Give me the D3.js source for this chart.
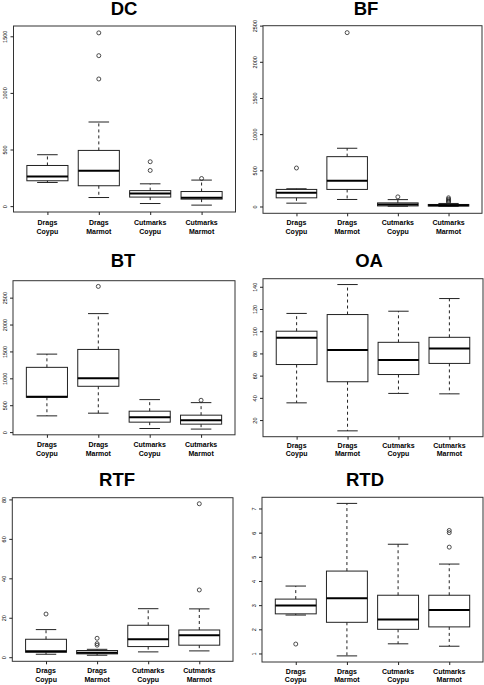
<!DOCTYPE html>
<html>
<head>
<meta charset="utf-8">
<script src="https://cdn.jsdelivr.net/npm/d3@7"></script>
<style>
  html, body { margin: 0; padding: 0; background: #fff; }
  svg { display: block; }
  text { font-family: "Liberation Sans", Arial, Helvetica, sans-serif; }
</style>
</head>
<body>
<svg id="chart" width="484" height="685"></svg>
<script>
// ---- Data ----
const catLine1 = ["Drags", "Drags", "Cutmarks", "Cutmarks"];
const catLine2 = ["Coypu", "Marmot", "Coypu", "Marmot"];

// Each box: [lower whisker, Q1, median, Q3, upper whisker]
const dcStats = [[209, 224, 262, 359, 454], [76, 180, 312, 492, 743], [23, 80, 111, 137, 197], [9, 62, 73, 129, 230]];
const dcOutliers = [[], [1123, 1329, 1530], [315, 392], [244]];
const dcTicks = [0, 500, 1000, 1500];

const bfStats = [[46, 120, 189, 236, 245], [97, 236, 356, 689, 805], [4, 8, 28, 50, 95], [2, 6, 18, 28, 42]];
const bfOutliers = [[532], [2403], [133], [58, 70, 85, 100, 120]];
const bfTicks = [0, 500, 1000, 1500, 2000, 2500];

const btStats = [[302, 648, 659, 1204, 1450], [352, 852, 1000, 1537, 2203], [67, 185, 278, 389, 604], [56, 148, 222, 315, 548]];
const btOutliers = [[], [2709], [], [592]];
const btTicks = [0, 500, 1000, 1500, 2000, 2500];

const oaStats = [[35.5, 70, 94, 100, 116], [10.3, 54.5, 83, 115, 142], [44, 61, 74, 90, 118], [43.6, 71, 84.5, 94.5, 129.4]];
const oaOutliers = [[], [], [], []];
const oaTicks = [20, 40, 60, 80, 100, 120, 140];

const rtfStats = [[1.5, 2.5, 3.0, 9.1, 14], [1.0, 1.7, 2.3, 3.4, 4.0], [2.7, 5.4, 9.1, 16.2, 24.6], [3.2, 6.1, 11.1, 13.8, 24.5]];
const rtfOutliers = [[21.9], [6.1, 6.9, 9.6], [], [34.1, 77.8]];
const rtfTicks = [0, 20, 40, 60, 80];

const rtdStats = [[2.59, 2.64, 2.99, 3.25, 3.79], [0.9, 2.29, 3.29, 4.41, 7.21], [1.4, 2.0, 2.41, 3.41, 5.52], [1.3, 2.1, 2.8, 3.41, 4.7]];
const rtdOutliers = [[1.39], [], [], [5.4, 6.0, 6.09]];
const rtdTicks = [1, 2, 3, 4, 5, 6, 7];

// ---- Layout ----
const panels = [
  { title: "DC",  stats: dcStats,  outliers: dcOutliers,  ticks: dcTicks,  frame: [13.5, 235.5, 26, 212],    titleXY: [124, 14.5],   lab: [225, 234] },
  { title: "BF",  stats: bfStats,  outliers: bfOutliers,  ticks: bfTicks,  frame: [263, 482, 25.7, 213.3],  titleXY: [366, 14.5],   lab: [225, 234] },
  { title: "BT",  stats: btStats,  outliers: btOutliers,  ticks: btTicks,  frame: [13, 235, 280.7, 434.8],  titleXY: [123, 267.3],  lab: [447, 455.7] },
  { title: "OA",  stats: oaStats,  outliers: oaOutliers,  ticks: oaTicks,  frame: [263, 483, 278.7, 436.7], titleXY: [369, 267.3],  lab: [447.5, 456.2] },
  { title: "RTF", stats: rtfStats, outliers: rtfOutliers, ticks: rtfTicks, frame: [12.3, 233, 497.7, 661.3], titleXY: [117, 486],   lab: [673, 681.7] },
  { title: "RTD", stats: rtdStats, outliers: rtdOutliers, ticks: rtdTicks, frame: [262, 483, 497.3, 662],   titleXY: [365, 486],    lab: [673.5, 682.2] }
];

const svg = d3.select("#chart");
const ink = "#222";

panels.forEach(p => {
  const [x0, x1, y0, y1] = p.frame;
  const n = p.stats.length;
  const all = p.stats.flat().concat(p.outliers.flat());
  const [mn, mx] = d3.extent(all);
  const pad = (mx - mn) * 0.04;
  const y = d3.scaleLinear().domain([mn - pad, mx + pad]).range([y1, y0]);
  const xpad = n * 0.04;
  const x = d3.scaleLinear().domain([0.5 - xpad, n + 0.5 + xpad]).range([x0, x1]);
  const bw = x(0.8) - x(0);
  const cw = x(0.4) - x(0);

  const g = svg.append("g");

  // title
  g.append("text")
    .attr("x", p.titleXY[0]).attr("y", p.titleXY[1])
    .attr("text-anchor", "middle")
    .attr("font-size", 18.5).attr("font-weight", "bold")
    .attr("fill", "#000")
    .text(p.title);

  // boxes
  p.stats.forEach((s, i) => {
    const cx = x(i + 1);
    const [lo, q1, med, q3, hi] = s;
    // whiskers (dashed)
    g.append("line").attr("x1", cx).attr("x2", cx).attr("y1", y(q3)).attr("y2", y(hi))
      .attr("stroke", ink).attr("stroke-width", 1).attr("stroke-dasharray", "3,3");
    g.append("line").attr("x1", cx).attr("x2", cx).attr("y1", y(q1)).attr("y2", y(lo))
      .attr("stroke", ink).attr("stroke-width", 1).attr("stroke-dasharray", "3,3");
    // caps
    [lo, hi].forEach(v => {
      g.append("line").attr("x1", cx - cw / 2).attr("x2", cx + cw / 2).attr("y1", y(v)).attr("y2", y(v))
        .attr("stroke", ink).attr("stroke-width", 1);
    });
    // box
    g.append("rect").attr("x", cx - bw / 2).attr("y", y(q3))
      .attr("width", bw).attr("height", Math.max(0.5, y(q1) - y(q3)))
      .attr("fill", "none").attr("stroke", ink).attr("stroke-width", 1);
    // median
    g.append("line").attr("x1", cx - bw / 2).attr("x2", cx + bw / 2).attr("y1", y(med)).attr("y2", y(med))
      .attr("stroke", "#000").attr("stroke-width", 2);
    // outliers
    p.outliers[i].forEach(v => {
      g.append("circle").attr("cx", cx).attr("cy", y(v)).attr("r", 2)
        .attr("fill", "none").attr("stroke", ink).attr("stroke-width", 0.8);
    });
  });

  // frame
  g.append("rect").attr("x", x0).attr("y", y0).attr("width", x1 - x0).attr("height", y1 - y0)
    .attr("fill", "none").attr("stroke", "#333").attr("stroke-width", 1);

  // y axis
  const ya = g.append("g").attr("transform", `translate(${x0},0)`)
    .call(d3.axisLeft(y).tickValues(p.ticks).tickSize(3).tickFormat(d3.format("d")));
  ya.select(".domain").remove();
  ya.selectAll("line").attr("stroke", ink);
  ya.selectAll("text")
    .attr("x", null).attr("dy", "0.35em")
    .attr("text-anchor", "middle")
    .attr("transform", "translate(-8,0) rotate(-90)")
    .attr("font-size", 5.5).attr("fill", "#000")
    .style("font-family", "'Liberation Sans', Arial, sans-serif");

  // x axis
  const xa = g.append("g").attr("transform", `translate(0,${y1})`)
    .call(d3.axisBottom(x).tickValues(d3.range(1, n + 1)).tickSize(3).tickFormat(""));
  xa.select(".domain").remove();
  xa.selectAll("line").attr("stroke", ink);

  // category labels
  catLine1.forEach((c, i) => {
    g.append("text").attr("x", x(i + 1)).attr("y", p.lab[0])
      .attr("text-anchor", "middle").attr("font-size", 7).attr("font-weight", "bold")
      .attr("fill", "#000").text(c);
    g.append("text").attr("x", x(i + 1)).attr("y", p.lab[1])
      .attr("text-anchor", "middle").attr("font-size", 7).attr("font-weight", "bold")
      .attr("fill", "#000").text(catLine2[i]);
  });
});
</script>
</body>
</html>
